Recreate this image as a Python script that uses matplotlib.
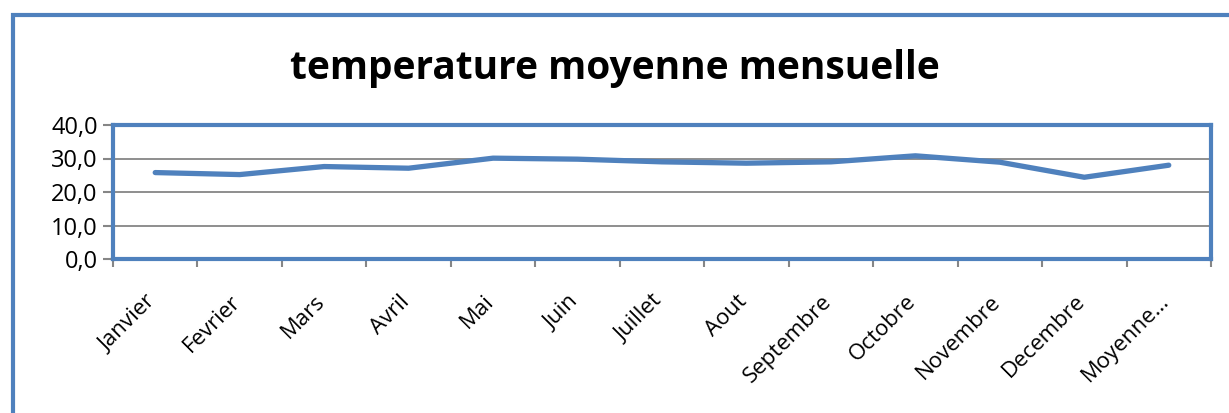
import matplotlib
matplotlib.use("Agg")
import matplotlib.pyplot as plt
import matplotlib.transforms as mtransforms
from matplotlib.patches import Rectangle
import numpy as np

categories = ["Janvier", "Fevrier", "Mars", "Avril", "Mai", "Juin", "Juillet",
              "Aout", "Septembre", "Octobre", "Novembre", "Decembre", "Moyenne…"]
temperatures = [25.8, 25.2, 27.6, 27.1, 30.1, 29.8, 29.0, 28.6, 29.0, 30.8, 28.9, 24.4, 28.0]
y_ticks = [0, 10, 20, 30, 40]
y_tick_labels = ["0,0", "10,0", "20,0", "30,0", "40,0"]
title = "temperature moyenne mensuelle"

BLUE = "#4F81BD"
GREY = "#868686"
W, H = 1229, 413
fig = plt.figure(figsize=(W / 100, H / 100), dpi=100)
plt.rcParams['font.family'] = ['Open Sans', 'DejaVu Sans']

# outer chart border (only left/top visible)
fig.patches.append(Rectangle((13 / W, -0.2), 1.5, (H - 15) / H + 0.2,
                             transform=fig.transFigure, fill=False,
                             edgecolor=BLUE, linewidth=3.0, zorder=0))

ax = fig.add_axes([113 / W, (H - 259) / H, (1211 - 113) / W, (259 - 125) / H])
x = np.arange(len(categories))
ax.plot(x, temperatures, color=BLUE, linewidth=3.8, solid_capstyle="round",
        solid_joinstyle="round", zorder=3)

ax.set_xlim(-0.5, len(categories) - 0.5)
ax.set_ylim(0, 40)
ax.set_yticks(y_ticks)
ax.set_yticklabels(y_tick_labels, fontsize=17)
ax.yaxis.grid(True, color=GREY, linewidth=1.3)
ax.set_axisbelow(True)

# category labels, placed like Excel (rotated, ending at category centre)
ax.set_xticks(x)
ax.set_xticklabels([])
ax.tick_params(axis="x", which="major", length=0)
lab_tr = ax.get_xaxis_transform() + mtransforms.ScaledTranslation(
    5 / 100, -32 / 100, fig.dpi_scale_trans)
for xi, cat in zip(x, categories):
    ax.text(xi, 0, cat, transform=lab_tr, rotation=45, ha="right", va="top",
            fontsize=16, clip_on=False)

ax.set_xticks(np.arange(-0.5, len(categories)), minor=True)
ax.tick_params(axis="x", which="minor", length=6, width=1.5, color=GREY, direction="out")
ax.tick_params(axis="y", length=7, width=1.5, color=GREY, pad=4)

for s in ax.spines.values():
    s.set_color(BLUE)
    s.set_linewidth(3.0)
    s.set_zorder(4)

fig.text(0.5, (H - 68) / H, title, ha="center", va="center",
         fontsize=28, fontweight="bold")

fig.savefig("out.png", dpi=100)
